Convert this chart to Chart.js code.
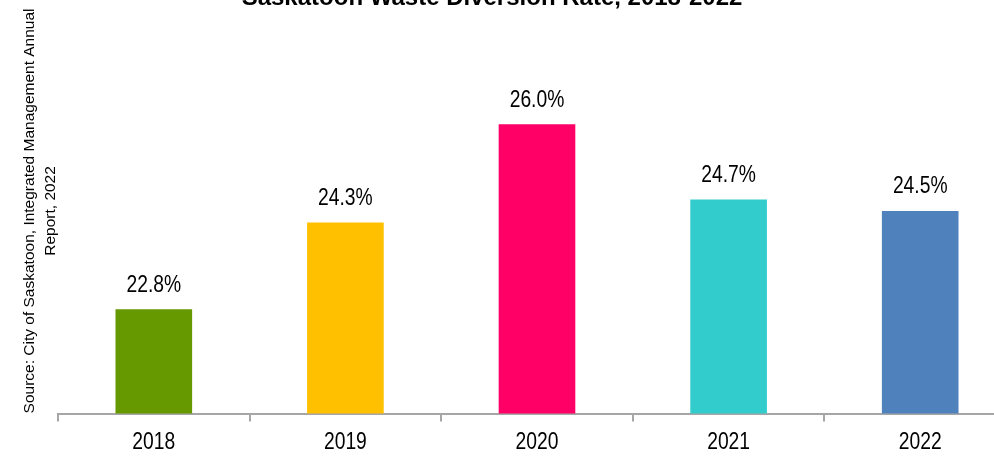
<!DOCTYPE html>
<html>
<head>
<meta charset="utf-8">
<script src="https://cdn.jsdelivr.net/npm/chart.js@4.4.1/dist/chart.umd.min.js"></script>
<style>
  html, body { margin: 0; padding: 0; background: #fff; overflow: hidden; width: 994px; height: 458px; }
  #wrap { position: absolute; left: -32px; top: -12px; width: 1048px; height: 482px; }
</style>
</head>
<body>
<div id="wrap"><canvas id="c" width="1048" height="482"></canvas></div>
<script>
// Waste diversion rate by year (percent)
const years = ['2018', '2019', '2020', '2021', '2022'];
const diversionRate = [22.8, 24.3, 26.0, 24.7, 24.5];
const barColors = ['#669900', '#FFC000', '#FF0066', '#33CCCC', '#4F81BD'];
const chartTitle = 'Saskatoon Waste Diversion Rate, 2018-2022';
const sourceNote = ['Source: City of Saskatoon, Integrated Management Annual', 'Report, 2022'];
const yRange = { min: 21, max: 28 };

const sansFamily = '"Liberation Sans", Arial, sans-serif';
const axisGrey = '#a6a6a6';
const labelFont = '23.5px ' + sansFamily;
const narrowFactor = 0.82;   // condensed face look for labels

// Draw text horizontally condensed around (x, y)
function drawNarrowText(ctx, text, x, y) {
  ctx.save();
  ctx.translate(x, y);
  ctx.scale(narrowFactor, 1);
  ctx.fillText(text, 0, 0);
  ctx.restore();
}

// Percentage labels above bars and year labels under the category axis
const narrowLabels = {
  id: 'narrowLabels',
  afterDraw(chart) {
    const { ctx, chartArea } = chart;
    const xScale = chart.scales.x;
    const meta = chart.getDatasetMeta(0);
    ctx.save();
    ctx.font = labelFont;
    ctx.fillStyle = '#000';
    ctx.textAlign = 'center';
    ctx.textBaseline = 'middle';
    meta.data.forEach((bar, i) => {
      drawNarrowText(ctx, diversionRate[i].toFixed(1) + '%', bar.x, bar.y - 24);
    });
    years.forEach((year, i) => {
      drawNarrowText(ctx, year, xScale.getPixelForValue(i), chartArea.bottom + 29);
    });
    ctx.restore();
  }
};

new Chart(document.getElementById('c'), {
  type: 'bar',
  data: {
    labels: years,
    datasets: [{
      data: diversionRate,
      backgroundColor: barColors,
      borderWidth: 0,
      barPercentage: 0.4,
      categoryPercentage: 1.0
    }]
  },
  options: {
    responsive: false,
    animation: false,
    devicePixelRatio: 1,
    layout: { padding: 0 },
    plugins: {
      legend: { display: false },
      tooltip: { enabled: false },
      title: {
        display: true,
        text: chartTitle,
        color: '#000',
        font: { family: sansFamily, size: 24, weight: 'bold', lineHeight: 0.85 },
        padding: { top: 0, bottom: 0 }
      }
    },
    scales: {
      x: {
        offset: true,
        grid: {
          display: true,
          offset: true,
          drawOnChartArea: false,
          drawTicks: true,
          tickLength: 8,
          color: axisGrey,
          lineWidth: 2
        },
        border: { display: true, color: axisGrey, width: 2 },
        ticks: { display: false, autoSkip: false },
        afterFit(scale) { scale.height = 56.5; }
      },
      y: {
        min: yRange.min,
        max: yRange.max,
        grid: { display: false },
        border: { display: false },
        ticks: { display: false },
        title: {
          display: true,
          text: sourceNote,
          color: '#000',
          font: { family: sansFamily, size: 15.5, lineHeight: 1.4 },
          padding: { top: 50.5, bottom: 0 }
        },
        afterFit(scale) { scale.width = 90; }
      }
    }
  },
  plugins: [narrowLabels]
});
</script>
</body>
</html>
